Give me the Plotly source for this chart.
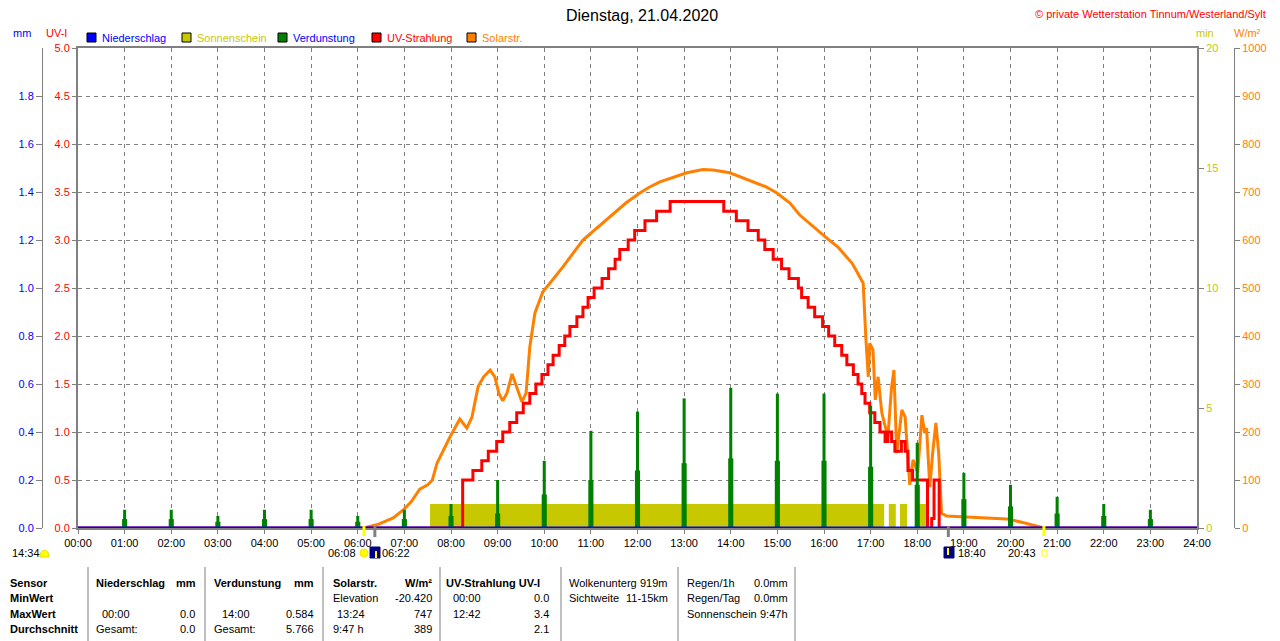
import plotly.graph_objects as go

# page is rendered with an 8px body margin, so the figure is shifted by OFF
OFF = 8
W, H = 1280 - OFF, 641 - OFF
FONT = "Liberation Sans"
GRAY = "#808080"
DASH = "4px,4px"
C_RAIN = "#0000ff"
C_SUN = "#c8c800"
C_EVAP = "#008000"
C_UV = "#ff0000"
C_SOLAR = "#ff8000"
C_NAVY = "#000080"

# x axis (hours)
hour_ticks = list(range(25))
hour_labels = [f"{h:02d}:00" for h in hour_ticks]

# Solarstrahlung W/m2, time in decimal hours
solar_t = [6.13, 6.2, 6.45, 6.76, 6.97, 7.15, 7.33, 7.5, 7.6, 7.7, 7.85, 7.98, 8.19, 8.34, 8.45,
           8.58, 8.7, 8.84, 8.94, 9.03, 9.11, 9.2, 9.31, 9.41, 9.52, 9.61, 9.69, 9.8, 9.97, 10.12,
           10.4, 10.83, 11.41, 11.75, 12.05, 12.25, 12.48, 13.06, 13.4, 13.62, 13.98, 14.48, 14.75,
           14.99, 15.27, 15.48, 15.77, 16.06, 16.3, 16.49, 16.6, 16.7, 16.84, 16.9, 16.95, 16.98,
           17.05, 17.1, 17.16, 17.24, 17.31, 17.37, 17.45, 17.5, 17.56, 17.67, 17.74, 17.8, 17.84,
           17.91, 18.01, 18.1, 18.16, 18.2, 18.27, 18.33, 18.4, 18.46, 18.52, 18.63, 19.13, 19.49,
           19.92, 20.2, 20.57, 20.72]
solar_w = [0, 2, 8, 21, 37, 55, 81, 90, 100, 135, 165, 190, 227, 208, 231,
           294, 315, 329, 315, 280, 265, 281, 321, 294, 263, 281, 377, 448, 492, 510,
           544, 600, 648, 677, 698, 710, 721, 740, 747, 746, 740, 721, 711,
           698, 677, 652, 627, 604, 585, 563, 552, 535, 510, 392, 315, 385,
           371, 267, 315, 240, 210, 190, 294, 329, 156, 246, 231, 142, 90,
           142, 115, 235, 198, 208, 85, 156, 219, 156, 31, 25, 23, 21,
           19, 13, 4, 0]

# UV-Strahlung (UV-I), step changes
uv_t = [0, 8.25, 8.47, 8.66, 8.80, 8.98, 9.11, 9.26, 9.41, 9.55, 9.69, 9.82, 9.95, 10.08, 10.19,
        10.32, 10.44, 10.55, 10.70, 10.83, 10.94, 11.07, 11.24, 11.38, 11.52, 11.62, 11.80, 11.94,
        12.16, 12.41, 12.70, 13.85, 14.12, 14.37, 14.59, 14.73, 14.91, 15.09, 15.25, 15.45, 15.52,
        15.66, 15.80, 15.97, 16.10, 16.23, 16.38, 16.49, 16.63, 16.73, 16.81, 16.88, 16.98, 17.09,
        17.20, 17.31, 17.37, 17.45, 17.52, 17.66, 17.74, 17.80, 17.90, 18.22, 18.31, 18.36, 18.47, 24]
uv_i = [0, 0.5, 0.6, 0.7, 0.8, 0.9, 1.0, 1.1, 1.2, 1.3, 1.4, 1.5, 1.6, 1.7, 1.8,
        1.9, 2.0, 2.1, 2.2, 2.3, 2.4, 2.5, 2.6, 2.7, 2.8, 2.9, 3.0, 3.1,
        3.2, 3.3, 3.4, 3.3, 3.2, 3.1, 3.0, 2.9, 2.8, 2.7, 2.6, 2.5, 2.4,
        2.3, 2.2, 2.1, 2.0, 1.9, 1.8, 1.7, 1.6, 1.5, 1.4, 1.3, 1.2, 1.1,
        1.0, 0.9, 1.0, 0.9, 0.8, 0.9, 0.8, 0.6, 0.5, 0.0, 0.1, 0.5, 0.0, 0.0]

# Verdunstung mm, hourly
evap_t = list(range(1, 24))
evap_mm = [0.076, 0.076, 0.05, 0.076, 0.076, 0.05, 0.076, 0.10, 0.20, 0.28, 0.405, 0.485,
           0.54, 0.584, 0.56, 0.56, 0.51, 0.355, 0.23, 0.18, 0.13, 0.10, 0.076]
evap_mm_part = [0.037, 0.037, 0.026, 0.037, 0.037, 0.026, 0.037, 0.05, 0.06, 0.14, 0.20, 0.24,
                0.27, 0.29, 0.28, 0.28, 0.255, 0.18, 0.12, 0.09, 0.06, 0.05, 0.037]

# Sonnenschein min, sunny periods (decimal hours)
sun_from = [7.55, 17.39, 17.63, 17.98]
sun_to = [17.29, 17.54, 17.78, 18.23]
sun_min = [1.0, 1.0, 1.0, 1.0]

# Niederschlag mm
rain_t = [0, 24]
rain_mm = [0.0, 0.0]

# sun / twilight times
sunrise, dawn, dusk, sunset = "06:08", "06:22", "18:40", "20:43"


def hrs(s):
    h, m = s.split(":")
    return int(h) + int(m) / 60


def px(x):
    # page pixel -> paper fraction
    return (x - OFF) / W


def py(y):
    return 1 - (y - OFF) / H


fig = go.Figure()

# main axis (y) = Sonnenschein in min, drawn lowest
fig.add_trace(go.Bar(
    x=[(a + b) / 2 for a, b in zip(sun_from, sun_to)], y=sun_min,
    width=[b - a for a, b in zip(sun_from, sun_to)],
    marker=dict(color=C_SUN, line=dict(width=0)), opacity=1, name="Sonnenschein",
))
fig.add_trace(go.Scatter(x=solar_t, y=solar_w, mode="lines", line=dict(color=C_SOLAR, width=3),
                         yaxis="y2", name="Solarstr."))
fig.add_trace(go.Scatter(x=uv_t, y=uv_i, mode="lines", line=dict(color=C_UV, width=3, shape="hv"),
                         yaxis="y3", name="UV-Strahlung"))
fig.add_trace(go.Bar(x=evap_t, y=evap_mm_part, width=0.11, opacity=1,
                     marker=dict(color=C_EVAP, line=dict(width=0)), yaxis="y4", name="Verdunstung"))
fig.add_trace(go.Bar(x=evap_t, y=evap_mm, width=0.065, opacity=1,
                     marker=dict(color=C_EVAP, line=dict(width=0)), yaxis="y4", name="Verdunstung"))
fig.add_trace(go.Scatter(x=rain_t, y=rain_mm, mode="lines", line=dict(color=C_RAIN, width=3),
                         yaxis="y4", name="Niederschlag"))

ydom = [py(528), py(48)]
tf = dict(family=FONT, size=11)

fig.update_layout(
    width=W, height=H,
    margin=dict(l=0, r=0, t=0, b=0),
    paper_bgcolor="white", plot_bgcolor="white",
    showlegend=False, barmode="overlay",
    font=dict(family=FONT, size=11, color="black"),
    xaxis=dict(domain=[px(78), px(1197)], range=[0, 24], tickvals=hour_ticks, ticktext=hour_labels,
               showgrid=True, gridcolor=GRAY, griddash=DASH, gridwidth=1,
               showline=True, linecolor=GRAY, linewidth=2, mirror=True,
               ticks="outside", ticklen=4, tickcolor=GRAY, tickfont=tf, zeroline=False, automargin=False),
    yaxis=dict(domain=ydom, side="right", range=[0, 20], tickvals=[0, 5, 10, 15, 20],
               tickfont=dict(family=FONT, size=11, color=C_SUN), ticks="outside", ticklen=5,
               tickcolor=GRAY, showgrid=False, zeroline=False,
               minor=dict(dtick=2, tick0=0, showgrid=True, gridcolor=GRAY, griddash=DASH, gridwidth=1,
                          ticks=""),
               showline=True, linecolor=GRAY, linewidth=2, mirror=True, automargin=False),
    yaxis2=dict(overlaying="y", side="right", anchor="free", position=px(1234), range=[0, 1000],
                dtick=100, tickfont=dict(family=FONT, size=11, color=C_SOLAR), ticks="outside",
                ticklen=5, tickcolor=GRAY, showgrid=False, zeroline=False, showline=True,
                linecolor=GRAY, linewidth=1, automargin=False),
    yaxis3=dict(overlaying="y", side="left", anchor="x", range=[0, 5], dtick=0.5, tickformat=".1f",
                tickfont=dict(family=FONT, size=11, color=C_UV), ticks="outside", ticklen=5,
                tickcolor=GRAY, showgrid=False, zeroline=False, showline=False, automargin=False),
    yaxis4=dict(overlaying="y", side="left", anchor="free", position=px(42), range=[0, 2],
                tickvals=[0, 0.2, 0.4, 0.6, 0.8, 1.0, 1.2, 1.4, 1.6, 1.8], tickformat=".1f",
                tickfont=dict(family=FONT, size=11, color=C_RAIN), ticks="outside", ticklen=6,
                tickcolor=GRAY, showgrid=False, zeroline=False, showline=True, linecolor=GRAY,
                linewidth=1, automargin=False),
)

anns = []
shapes = []


def text(s, x, y, color="black", size=11, anchor="left", bold=False):
    if bold:
        s = f"<b>{s}</b>"
    anns.append(dict(text=s, x=px(x), y=py(y), xref="paper", yref="paper", showarrow=False,
                     xanchor=anchor, yanchor="middle", font=dict(family=FONT, size=size, color=color)))


def rect(x0, y0, x1, y1, fill, line="black", lw=1):
    shapes.append(dict(type="rect", xref="paper", yref="paper", x0=px(x0), x1=px(x1), y0=py(y1), y1=py(y0),
                       fillcolor=fill, line=dict(color=line, width=lw)))


# header
text("Dienstag, 21.04.2020", 642, 15, size=16, anchor="center")
text("© private Wetterstation Tinnum/Westerland/Sylt", 1268, 14, color=C_UV, anchor="right")
text("mm", 22, 33, color=C_RAIN, anchor="center")
text("UV-I", 56, 33, color=C_UV, anchor="center")
text("min", 1205, 33, color=C_SUN, anchor="center")
text("W/m²", 1247, 33, color=C_SOLAR, anchor="center")

# legend
legend = [("Niederschlag", C_RAIN, C_RAIN, 87), ("Sonnenschein", C_SUN, C_SUN, 182),
          ("Verdunstung", C_EVAP, C_RAIN, 278), ("UV-Strahlung", C_UV, C_UV, 372),
          ("Solarstr.", C_SOLAR, C_SOLAR, 467)]
for name, box, col, x in legend:
    rect(x, 33, x + 9, 42, box)
    text(name, x + 13, 38, color=col)

# sunrise / sunset marks
for t, col, y1 in [(sunrise, "#ffff00", 536), (sunset, "#ffff00", 536), (dawn, GRAY, 537), (dusk, GRAY, 537)]:
    shapes.append(dict(type="line", xref="x", yref="paper", x0=hrs(t), x1=hrs(t), y0=py(526), y1=py(y1),
                       line=dict(color=col, width=3)))

text("14:34", 10, 553)
shapes.append(dict(type="path", xref="paper", yref="paper", fillcolor="#ffff00", line=dict(color="#e0e000", width=1),
                   path=f"M {px(40)},{py(557)} C {px(40)},{py(548)} {px(49)},{py(548)} {px(49)},{py(557)} Z"))
text(sunrise, 358, 553, anchor="right")
shapes.append(dict(type="circle", xref="paper", yref="paper", x0=px(360), x1=px(368), y0=py(557), y1=py(549),
                   fillcolor="#ffff00", line=dict(color="#ffe000", width=1)))
rect(370, 547, 380, 558, C_NAVY, line=C_NAVY)
shapes.append(dict(type="line", xref="paper", yref="paper", x0=px(376), x1=px(376), y0=py(558), y1=py(551),
                   line=dict(color="#ffff00", width=2)))
text(dawn, 380, 553)
rect(944, 547, 954, 558, C_NAVY, line=C_NAVY)
shapes.append(dict(type="line", xref="paper", yref="paper", x0=px(948), x1=px(948), y0=py(548), y1=py(555),
                   line=dict(color="#ffff00", width=2)))
text(dusk, 956, 553)
text(sunset, 1038, 553, anchor="right")
rect(1042, 550, 1047, 556, "white", line="#ffff00")

# statistics table
for x in [88, 205, 323, 440, 561, 678, 795]:
    shapes.append(dict(type="line", xref="paper", yref="paper", x0=px(x), x1=px(x), y0=py(567), y1=py(641),
                       line=dict(color=GRAY, width=1)))

rows_y = [583, 598, 614, 629]
for label, y in zip(["Sensor", "MinWert", "MaxWert", "Durchschnitt"], rows_y):
    text(label, 8, y, bold=True)

cells = [
    # (text, x, row, anchor, bold)
    ("Niederschlag", 94, 0, "left", True), ("mm", 198, 0, "right", True),
    ("00:00", 100, 2, "left", False), ("0.0", 197, 2, "right", False),
    ("Gesamt:", 94, 3, "left", False), ("0.0", 197, 3, "right", False),
    ("Verdunstung", 212, 0, "left", True), ("mm", 316, 0, "right", True),
    ("14:00", 220, 2, "left", False), ("0.584", 316, 2, "right", False),
    ("Gesamt:", 212, 3, "left", False), ("5.766", 316, 3, "right", False),
    ("Solarstr.", 331, 0, "left", True), ("W/m²", 434, 0, "right", True),
    ("Elevation", 331, 1, "left", False), ("-20.420", 434, 1, "right", False),
    ("13:24", 335, 2, "left", False), ("747", 434, 2, "right", False),
    ("9:47 h", 331, 3, "left", False), ("389", 434, 3, "right", False),
    ("UV-Strahlung UV-I", 444, 0, "left", True),
    ("00:00", 451, 1, "left", False), ("0.0", 551, 1, "right", False),
    ("12:42", 451, 2, "left", False), ("3.4", 551, 2, "right", False),
    ("2.1", 551, 3, "right", False),
    ("Wolkenunterg", 567, 0, "left", False), ("919m", 670, 0, "right", False),
    ("Sichtweite", 567, 1, "left", False), ("11-15km", 670, 1, "right", False),
    ("Regen/1h", 685, 0, "left", False), ("0.0mm", 790, 0, "right", False),
    ("Regen/Tag", 685, 1, "left", False), ("0.0mm", 790, 1, "right", False),
    ("Sonnenschein", 685, 2, "left", False), ("9:47h", 790, 2, "right", False),
]
for s, x, r, anchor, bold in cells:
    text(s, x, rows_y[r], anchor=anchor, bold=bold)

fig.update_layout(annotations=anns, shapes=shapes)
fig.write_html("out.html")
